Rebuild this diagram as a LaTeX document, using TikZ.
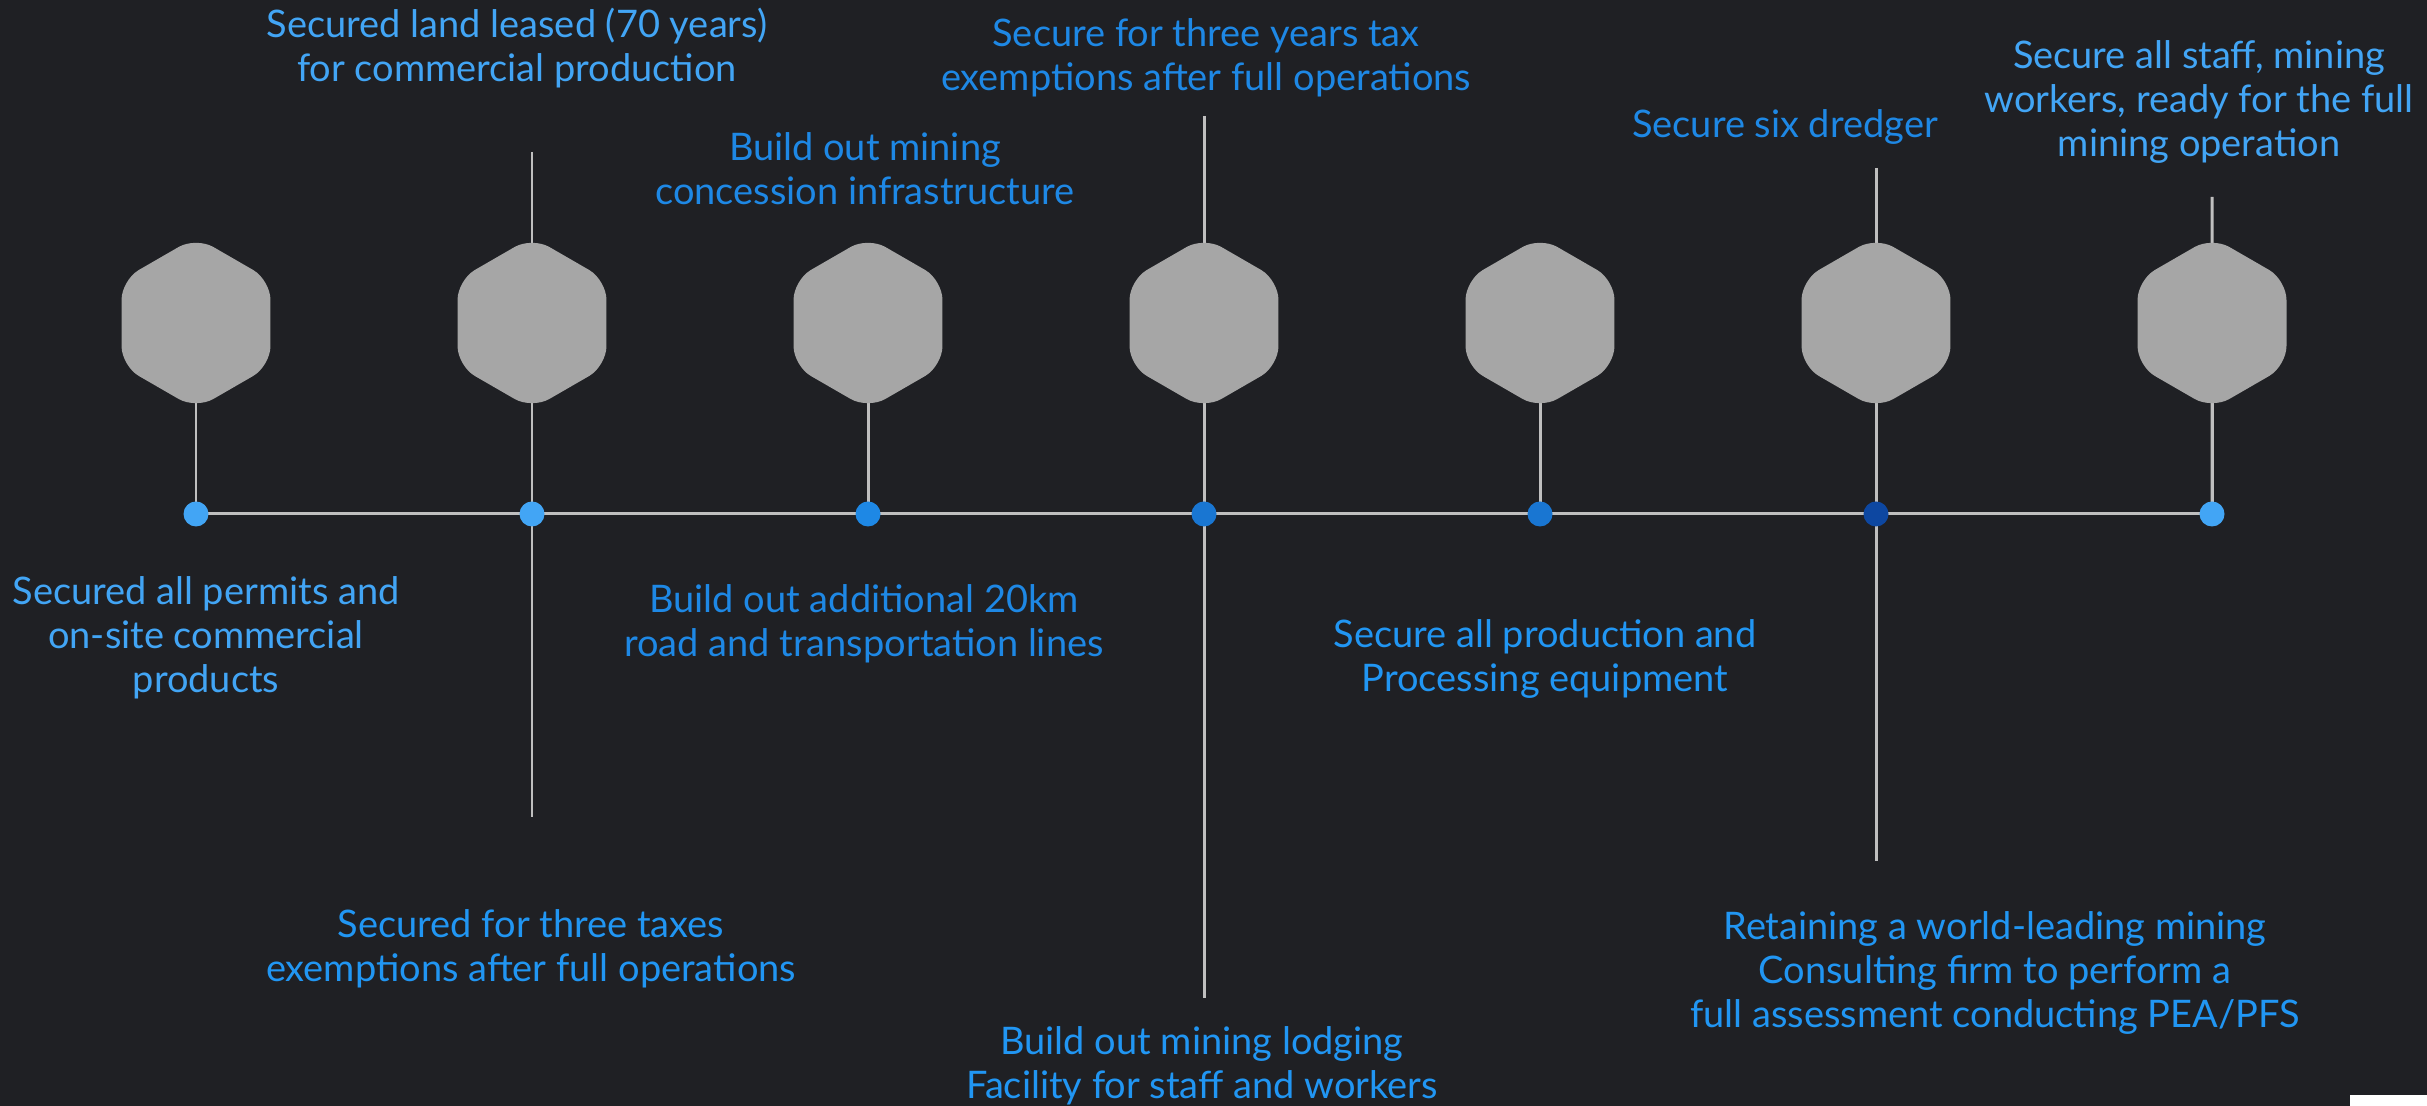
\documentclass[tikz,border=0pt]{standalone}
\usepackage{fontspec}
\setmainfont{Lato}
\usetikzlibrary{shapes.geometric}
\definecolor{pagebg}{HTML}{1F2024}
\definecolor{hexgray}{HTML}{A6A6A6}
\definecolor{linegray}{HTML}{BFBFBF}
\definecolor{lightblue}{HTML}{42A5F5}
\definecolor{midblue}{HTML}{1E88E5}
\definecolor{textblue}{HTML}{2196F3}
\definecolor{dotblue}{HTML}{1976D2}
\definecolor{deepblue}{HTML}{0D47A1}
\pgfdeclarelayer{bg}
\pgfsetlayers{bg,main}
\tikzset{
  hexa/.style={regular polygon, regular polygon sides=6, shape border rotate=30,
    minimum size=1.72cm, inner sep=0pt, fill=hexgray, rounded corners=0.2cm},
  milestone/.style={circle, inner sep=0pt, minimum size=0.25cm},
  link/.style={draw=linegray, line width=0.85pt},
  lbl/.style={align=center, anchor=base, font=\fontsize{10.8}{12.6}\selectfont},
}
\begin{document}
\begin{tikzpicture}
	\begin{pgfonlayer}{bg}
	\fill[pagebg] (0,0) rectangle (24.27,11.06);
	\end{pgfonlayer}
	\useasboundingbox (0,0) rectangle (24.27,11.06);
	\fill[white] (23.50,0) rectangle (24.27,0.11);

	\foreach \i/\c in {1/lightblue,2/lightblue,3/midblue,4/dotblue,5/dotblue,6/deepblue,7/lightblue}{
		\node[hexa] (h\i) at (1.96+3.36*\i-3.36,7.83) {};
		\node[milestone, fill=\c] (d\i) at (1.96+3.36*\i-3.36,5.92) {};
	};

	\coordinate (t2) at (5.32,9.54);
	\coordinate (b2) at (5.32,2.89);
	\coordinate (t4) at (12.04,9.90);
	\coordinate (b4) at (12.04,1.08);
	\coordinate (t6) at (18.76,9.38);
	\coordinate (b6) at (18.76,2.45);
	\coordinate (t7) at (22.12,9.09);

	\begin{pgfonlayer}{bg}
	\foreach \i in {1,...,7}{
		\draw[link] (h\i.center) -- (d\i.center);
	};
	\draw[link] (d1.center) -- (d7.center);
	\draw[link] (t2) -- (b2);
	\draw[link] (t4) -- (b4);
	\draw[link] (t6) -- (b6);
	\draw[link] (t7) -- (d7.center);
	\end{pgfonlayer}

	% above the line (y = baseline of the last line)
	\node[lbl, text=lightblue] (up2) at (5.17,10.24) {Secured land leased (70 years)\\for commercial production};
	\node[lbl, text=midblue] (up3) at (8.65,9.01) {Build out mining\\concession infrastructure};
	\node[lbl, text=midblue] (up4) at (12.06,10.15) {Secure for three years tax\\exemptions after full operations};
	\node[lbl, text=midblue] (up6) at (17.85,9.68) {Secure six dredger};
	\node[lbl, text=lightblue] (up7) at (21.99,9.49) {Secure all staff, mining\\workers, ready for the full\\mining operation};

	% below the line
	\node[lbl, text=lightblue] (down1) at (2.06,4.13) {Secured all permits and\\on-site commercial\\products};
	\node[lbl, text=midblue] (down3) at (8.64,4.49) {Build out additional 20km\\road and transportation lines};
	\node[lbl, text=textblue] (down5) at (15.45,4.14) {Secure all production and\\Processing equipment};
	\node[lbl, text=textblue] (down2) at (5.31,1.24) {Secured for three taxes\\exemptions after full operations};
	\node[lbl, text=textblue] (down4) at (12.02,0.07) {Build out mining lodging\\Facility for staff and workers};
	\node[lbl, text=textblue] (down6) at (19.95,0.78) {Retaining a world-leading mining\\Consulting firm to perform a\\full assessment conducting PEA/PFS};
\end{tikzpicture}
\end{document}
